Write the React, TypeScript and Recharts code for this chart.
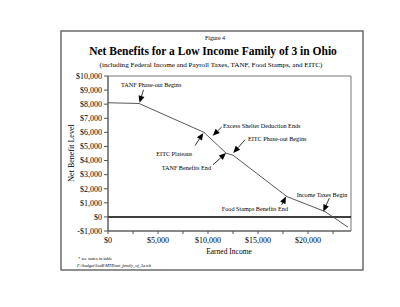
import React from 'react';
import { LineChart, Line, XAxis, YAxis, ReferenceLine, ReferenceDot, ReferenceArea } from 'recharts';

// Earned income ($) at each kink of the benefit curve
const incomeX = [0, 3100, 9600, 11800, 12500, 17900, 21700, 24000];
// Net benefit level ($)
const netBenefit = [8100, 8050, 6000, 4530, 4380, 1440, 380, -730];

const xTicks = [0, 2500, 5000, 7500, 10000, 12500, 15000, 17500, 20000, 22500];
const yTicks = [-1000, 0, 1000, 2000, 3000, 4000, 5000, 6000, 7000, 8000, 9000, 10000];

// Annotations: label and the data point each arrow points at
const annoLabels = [
  'TANF Phase-out Begins',
  'EITC Plateaus',
  'Excess Shelter Deduction Ends',
  'EITC Phase-out Begins',
  'TANF Benefits End',
  'Food Stamps Benefits End',
  'Income Taxes Begin',
];
const annoX = [3150, 9530, 10470, 12530, 11800, 17800, 21530];
const annoY = [8100, 5960, 5765, 4530, 4530, 1445, 377];

// layout of each annotation relative to its arrow tip (pixels)
const annoLayout = [
  { tail: [4, -13], text: [-18.5, -18], anchor: 'start' },
  { tail: [-8.3, 12.7], text: [-29, 20.7], anchor: 'middle' },
  { tail: [9, -8.7], text: [10.3, -10], anchor: 'start' },
  { tail: [11.7, -13.3], text: [14.7, -14], anchor: 'start' },
  { tail: [-13, 11.7], text: [-15, 14.7], anchor: 'end' },
  { tail: [-4.3, 8.3], text: [2, 12.6], anchor: 'end' },
  { tail: [6, -13.4], text: [-26.6, -16.7], anchor: 'start' },
];

const data = incomeX.map((x, i) => ({ x, y: netBenefit[i] }));

const FONT = '"Liberation Serif", "Times New Roman", serif';

const fmtMoney = (v: number) => {
  const s = '$' + Math.abs(v).toLocaleString('en-US');
  return v < 0 ? '-' + s : s;
};

const makeArrow = (i: number) => (props: any) => {
  const { cx, cy } = props;
  if (cx == null || cy == null) return <g />;
  const lay = annoLayout[i];
  const tx = cx + lay.tail[0];
  const ty = cy + lay.tail[1];
  const dx = cx - tx;
  const dy = cy - ty;
  const len = Math.sqrt(dx * dx + dy * dy);
  const ux = dx / len;
  const uy = dy / len;
  const L = 7;
  const W = 3;
  const bx = cx - ux * L;
  const by = cy - uy * L;
  const nx = -uy;
  const ny = ux;
  const pts = `${cx},${cy} ${bx + nx * W},${by + ny * W} ${bx - nx * W},${by - ny * W}`;
  return (
    <g>
      <line x1={tx} y1={ty} x2={bx} y2={by} stroke="#000" strokeWidth={0.8} />
      <polygon points={pts} fill="#000" />
      <text
        x={cx + lay.text[0]}
        y={cy + lay.text[1] + 2}
        textAnchor={lay.anchor as any}
        fontFamily={FONT}
        fontSize={6.2}
        fill="#000"
      >
        {annoLabels[i]}
      </text>
    </g>
  );
};

export default function App() {
  return (
    <div style={{ position: 'absolute', left: 0, top: 0, width: 400, height: 307, background: '#fff' }}>
      <LineChart width={400} height={307} data={data} margin={{ top: 76, right: 49, bottom: 0, left: 0 }}>
        <rect x={61} y={31} width={302} height={239} fill="none" stroke="#555" strokeWidth={1.3} />
        <text x={215} y={40} textAnchor="middle" fontFamily={FONT} fontSize={6} fill="#000">Figure 4</text>
        <text x={213} y={55} textAnchor="middle" fontFamily={FONT} fontSize={11.5} fontWeight="bold" fill="#000">
          Net Benefits for a Low Income Family of 3 in Ohio
        </text>
        <text x={211} y={67} textAnchor="middle" fontFamily={FONT} fontSize={7.1} fill="#000">
          (including Federal Income and Payroll Taxes, TANF, Food Stamps, and EITC)
        </text>
        <text x={229} y={254} textAnchor="middle" fontFamily={FONT} fontSize={7.5} fill="#000">Earned Income</text>
        <text x={78} y={260} fontFamily={FONT} fontSize={4.5} fill="#000">* see notes in table</text>
        <text x={77} y={267} fontFamily={FONT} fontSize={4.3} fontStyle="italic" fill="#000">
          F:\budget\lisaB\MTR\net_family_of_3a.wb
        </text>
        <text
          x={0}
          y={0}
          transform="translate(74,153) rotate(-90)"
          textAnchor="middle"
          fontFamily={FONT}
          fontSize={8}
          fill="#000"
        >
          Net Benefit Level
        </text>
        <ReferenceArea x1={0} x2={24300} y1={-1000} y2={10000} fill="none" stroke="#777" strokeWidth={1} ifOverflow="visible" />
        <XAxis
          dataKey="x"
          type="number"
          domain={[0, 24300]}
          ticks={xTicks}
          interval={0}
          allowDataOverflow
          height={76}
          tickSize={3}
          tickMargin={3}
          stroke="#555"
          tick={{ fontFamily: FONT, fontSize: 8, fill: '#000' }}
          tickFormatter={(v: number) => (v % 5000 === 0 ? fmtMoney(v) : '')}
        />
        <YAxis
          type="number"
          domain={[-1000, 10000]}
          ticks={yTicks}
          interval={0}
          width={108}
          tickSize={4}
          stroke="#555"
          tick={{ fontFamily: FONT, fontSize: 8, fill: '#000' }}
          tickFormatter={fmtMoney}
        />
        <ReferenceLine y={0} stroke="#000" strokeWidth={1.5} />
        <Line
          type="linear"
          dataKey="y"
          stroke="#444"
          strokeWidth={0.9}
          dot={false}
          isAnimationActive={false}
        />
        {annoLabels.map((_, i) => (
          <ReferenceDot key={i} x={annoX[i]} y={annoY[i]} r={0} ifOverflow="visible" shape={makeArrow(i)} />
        ))}
      </LineChart>
    </div>
  );
}
